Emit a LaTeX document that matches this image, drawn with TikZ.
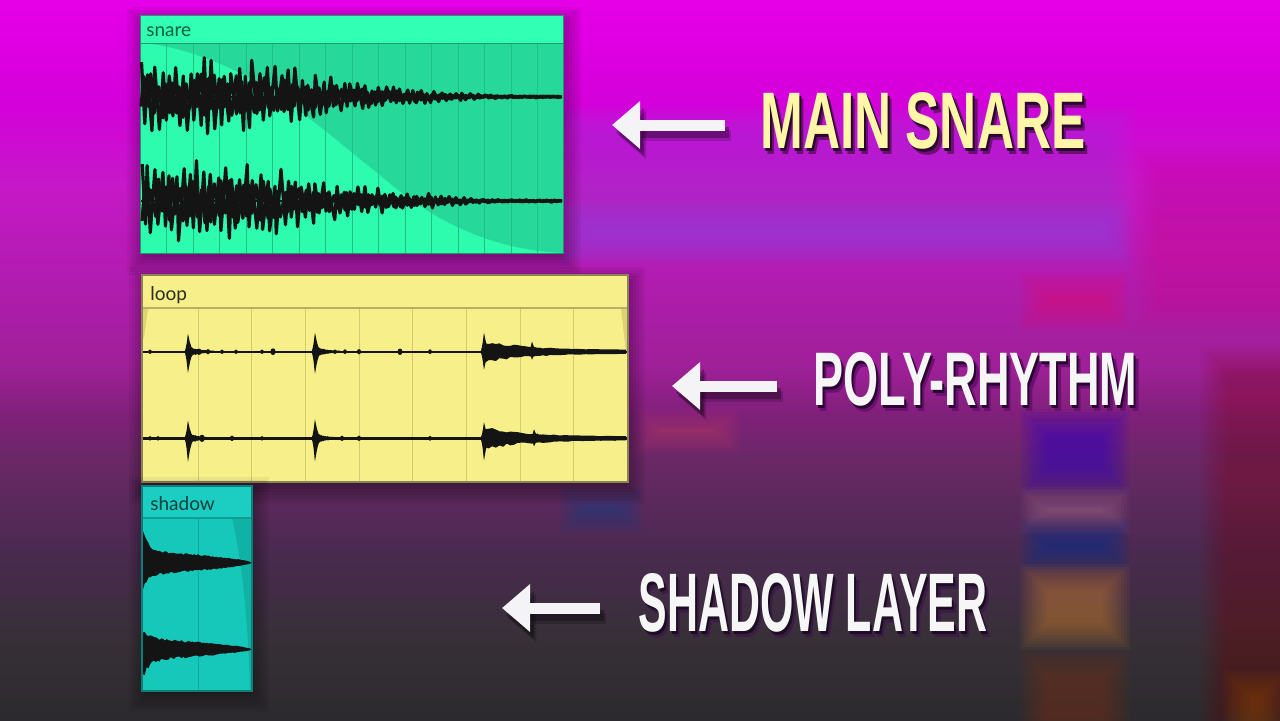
\documentclass[tikz,border=0pt]{standalone}
\usepackage{fontspec}
\setmainfont{Liberation Sans}
\newfontfamily\labfont{Lato}
\usetikzlibrary{arrows.meta}
\definecolor{bgA}{HTML}{E600E8}
\definecolor{bgB}{HTML}{D400DA}
\definecolor{bgC}{HTML}{C618C8}
\definecolor{bgD}{HTML}{9E2098}
\definecolor{bgE}{HTML}{80207A}
\definecolor{bgF}{HTML}{6A2866}
\definecolor{bgG}{HTML}{4A2A50}
\definecolor{bgH}{HTML}{363036}
\definecolor{bgI}{HTML}{2C2A2E}
\definecolor{panelviolet}{HTML}{9448E0}
\definecolor{snhead}{HTML}{31FFB3}
\definecolor{snlight}{HTML}{2DFCAF}
\definecolor{sndark}{HTML}{26D99A}
\definecolor{sngrid}{HTML}{1FBF87}
\definecolor{snborder}{HTML}{1A9A6C}
\definecolor{sntext}{HTML}{0E5E40}
\definecolor{lpbody}{HTML}{F7F08A}
\definecolor{lpgrid}{HTML}{D2CA6C}
\definecolor{lpsep}{HTML}{B8B068}
\definecolor{lpborder}{HTML}{8A8450}
\definecolor{lpfade}{HTML}{DCD474}
\definecolor{lptext}{HTML}{2E2C20}
\definecolor{shbody}{HTML}{16C8BA}
\definecolor{shhead}{HTML}{1BCEC1}
\definecolor{shsep}{HTML}{0E9E94}
\definecolor{shgrid}{HTML}{10A89E}
\definecolor{shfade}{HTML}{10B2A6}
\definecolor{shborder}{HTML}{0B7F78}
\definecolor{shtext}{HTML}{073F3B}
\definecolor{arrowwhite}{HTML}{F4F4F6}
\definecolor{titleyellow}{HTML}{FFF6A8}
\definecolor{titlewhite}{HTML}{F6F6F6}
\definecolor{shadowA}{HTML}{2A0630}
\definecolor{shadowB}{HTML}{6A1070}
\definecolor{shadowC}{HTML}{1C0E22}
\definecolor{shadowD}{HTML}{3A1C44}
\tikzset{
  wave/.style={fill=black!92},
  waveline/.style={draw=black!92, line width=1.6pt, line join=round},
  baseline/.style={draw=black!92, line width=1.2pt},
  bigarrow/.style={draw=arrowwhite, line width=5.5pt, -{Triangle[length=14pt,width=23pt]}},
  arrowshadow/.style={draw=black, opacity=0.3, line width=5.5pt, -{Triangle[length=14pt,width=23pt]}},
  cliplabel/.style={anchor=base west, inner sep=0pt, font=\labfont\fontsize{9.5}{11}\selectfont},
  bigtext/.style={anchor=base west, inner sep=0pt},
}
\newcommand\blurbox[6]{\foreach \bi in {0,...,9}{\fill[#5, opacity=#6] ({#1-15+3*\bi},{#2-15+3*\bi}) rectangle ({#3+15-3*\bi},{#4+15-3*\bi});}}
\newcommand\spike[4]{\fill[wave] ({#1-3.5},{#2}) .. controls ({#1-1},{#2-0.3*#3}) and ({#1-0.8},{#2-0.85*#3}) .. ({#1},{#2-#3}) .. controls ({#1+0.8},{#2-0.85*#3}) and ({#1+1.8},{#2-0.3*#3}) .. ({#1+6},{#2}) .. controls ({#1+1.8},{#2+0.3*#4}) and ({#1+0.8},{#2+0.85*#4}) .. ({#1},{#2+#4}) .. controls ({#1-0.8},{#2+0.85*#4}) and ({#1-1},{#2+0.3*#4}) .. cycle;}
\newcommand\wtail[6]{\fill[wave] plot[domain=#1:#2, samples=40] (\x,{#3-#6-#4*exp(-(\x-#1)/#5)*(0.55+0.45*rnd)}) -- plot[domain=#2:#1, samples=40] (\x,{#3+#6+#4*exp(-(\x-#1)/#5)*(0.55+0.45*rnd)}) -- cycle;}
\newcommand\blob[3]{\fill[wave] (#1,#2) ellipse ({0.8*#3} and {#3});}
\newcommand\snarewave[3]{\draw[waveline] plot[domain=141:561, samples=121] ({min(max(\x+1.3*rand,141),562)},{#1-#2*(31/(1+exp(min((\x-305)/30,8)))+10/(1+exp(min((\x-435)/22,8)))+1.2)*(0.42+0.58*rnd)*(1-2*mod(round((\x-141)/3.5)+#3,2))});}
\newcommand\titletext[6]{\rlap{\hspace{2.2pt}\raisebox{-3.2pt}{\color{#6}\resizebox{#2}{#3}{\bfseries #4}}}\rlap{\hspace{1pt}\raisebox{-1.5pt}{\color{#5}\resizebox{#2}{#3}{\bfseries #4}}}{\color{#1}\resizebox{#2}{#3}{\bfseries #4}}}
\begin{document}
\begin{tikzpicture}[x=0.5pt,y=-0.5pt]
\useasboundingbox (0,0) rectangle (1280,720);
\pgfmathsetseed{11}
% ---------- background ----------
\shade[top color=bgA, bottom color=bgB] (0,0) rectangle (1280,101);
\shade[top color=bgB, bottom color=bgC] (0,100) rectangle (1280,185);
\shade[top color=bgC, bottom color=bgD] (0,184) rectangle (1280,368);
\shade[top color=bgD, bottom color=bgE] (0,367) rectangle (1280,414);
\shade[top color=bgE, bottom color=bgF] (0,413) rectangle (1280,460);
\shade[top color=bgF, bottom color=bgG] (0,459) rectangle (1280,552);
\shade[top color=bgG, bottom color=bgH] (0,551) rectangle (1280,644);
\shade[top color=bgH, bottom color=bgI] (0,643) rectangle (1280,720);
% blurred app panel behind
\blurbox{570}{120}{1120}{250}{panelviolet}{0.035}
\blurbox{575}{215}{1115}{250}{panelviolet}{0.06}
\blurbox{1145}{160}{1300}{320}{magenta!85!red}{0.025}
\blurbox{1215}{360}{1300}{720}{red!55!black}{0.03}
\blurbox{1035}{287}{1115}{316}{magenta!70!red}{0.06}
\blurbox{1035}{424}{1115}{480}{blue!60!violet}{0.07}
\blurbox{1035}{502}{1115}{519}{gray!70!magenta}{0.06}
\blurbox{1035}{533}{1115}{557}{blue!70!cyan!60!black}{0.07}
\blurbox{1035}{579}{1115}{635}{brown!80!orange}{0.065}
\blurbox{1035}{665}{1115}{730}{red!40!brown!60!black}{0.06}
\blurbox{1238}{685}{1272}{730}{orange!60!black}{0.06}
\blurbox{650}{423}{725}{439}{magenta!50!orange}{0.035}
\blurbox{575}{502}{628}{519}{blue!50!cyan!60!black}{0.05}
% ---------- snare clip ----------
\blurbox{142}{22}{566}{260}{black}{0.05}
\fill[snlight] (140,15) rectangle (563,253);
\fill[sndark] (146,43) .. controls (250,58) and (312,122) .. (380,175) .. controls (440,228) and (500,250) .. (563,253) -- (563,43) -- cycle;
\foreach \k in {1,...,15} \draw[sngrid, line width=0.5pt] ({140+26.5*\k},43) -- ({140+26.5*\k},253);
\fill[snhead] (140,15) rectangle (563,43);
\draw[snborder, line width=0.5pt] (140,43) -- (563,43);
\draw[snborder, line width=0.5pt] (140,15) rectangle (563,253);
\draw[baseline, line width=0.8pt] (141,96.7) -- (562,96.7);
\draw[baseline, line width=0.8pt] (141,201) -- (562,201);
\snarewave{96.7}{1}{0}
\snarewave{96.7}{0.55}{1}
\snarewave{201}{1}{0}
\snarewave{201}{0.55}{1}
\node[cliplabel, text=sntext] (lsnare) at (146,36) {snare};
% ---------- loop clip ----------
\blurbox{144}{282}{630}{489}{black}{0.05}
\fill[lpbody] (142,275) rectangle (628,482);
\foreach \k in {1,...,8} \draw[lpgrid, line width=0.5pt] ({144.3+53.7*\k},308) -- ({144.3+53.7*\k},482);
\fill[lpfade] (143,309) -- (148,309) -- (144,338) -- (143,338) -- cycle;
\fill[lpfade] (627,309) -- (621,309) -- (626,353) -- (627,353) -- cycle;
\draw[lpsep, line width=0.7pt] (142,308) -- (628,308);
\draw[lpborder, line width=1pt] (142,275) rectangle (628,482);
\node[cliplabel, text=lptext] (lloop) at (150,300) {loop};
% channel 1
\draw[baseline] (143,351.7) -- (627,351.7);
\spike{188}{351.7}{18}{21}
\wtail{189}{214}{351.7}{5}{9}{0.8}
\spike{315}{351.7}{19}{22}
\wtail{316}{340}{351.7}{5}{9}{0.8}
\spike{484}{351.7}{19}{18}
\wtail{485}{626}{351.7}{10}{45}{1.8}
\spike{532}{351.7}{10}{8}
\wtail{532}{565}{351.7}{5}{14}{1}
\blob{150}{351.7}{2.2}
\blob{199}{351.7}{3.2}
\blob{208}{351.7}{2.6}
\blob{222}{351.7}{2.2}
\blob{236}{351.7}{2.2}
\blob{262}{351.7}{2.2}
\blob{273}{351.7}{3.4}
\blob{335}{351.7}{2.2}
\blob{345}{351.7}{2.4}
\blob{359}{351.7}{2.6}
\blob{400}{351.7}{3.2}
\blob{430}{351.7}{2.4}
% channel 2
\draw[baseline] (143,438.3) -- (627,438.3);
\spike{188}{438.3}{17.6}{23.4}
\wtail{189}{212}{438.3}{5}{9}{0.8}
\spike{315}{438.3}{19}{23}
\wtail{316}{338}{438.3}{5}{9}{0.8}
\spike{484}{438.3}{16}{22}
\wtail{485}{626}{438.3}{10}{45}{1.8}
\spike{534}{438.3}{9}{8}
\wtail{534}{565}{438.3}{5}{14}{1}
\blob{150}{438.3}{2.2}
\blob{158}{438.3}{2.2}
\blob{202}{438.3}{3.6}
\blob{232}{438.3}{2.7}
\blob{262}{438.3}{2.2}
\blob{342}{438.3}{2.6}
\blob{359}{438.3}{2.6}
\blob{430}{438.3}{2.4}
\blob{552}{438.3}{2.6}
\blob{615}{438.3}{2.4}
% ---------- shadow clip ----------
\blurbox{144}{492}{254}{697}{black}{0.05}
\fill[shbody] (142,486) rectangle (252,691);
\draw[shgrid, line width=0.5pt] (198.3,518) -- (198.3,691);
\fill[shfade] (232,518) .. controls (242,560) and (248,620) .. (250,691) -- (252,691) -- (252,518) -- cycle;
\fill[shhead] (142,486) rectangle (252,518);
\draw[shsep, line width=0.6pt] (142,518) -- (252,518);
\draw[shborder, line width=0.6pt] (142,486) rectangle (252,691);
\node[cliplabel, text=shtext] (lshadow) at (150,510) {shadow};
\fill[wave] plot[domain=143:251, samples=60] (\x,{562.7-(19*exp(-(\x-143)/6)+13)*((251.5-\x)/108.5)^0.6*(0.8+0.2*rnd)}) -- plot[domain=251:143, samples=60] (\x,{562.7+(14*exp(-(\x-143)/6)+13)*((251.5-\x)/108.5)^0.6*(0.8+0.2*rnd)}) -- cycle;
\fill[wave] plot[domain=143:251, samples=60] (\x,{649.3-(10*exp(-(\x-143)/6)+12)*((251.5-\x)/108.5)^0.6*(0.75+0.25*rnd)}) -- plot[domain=251:143, samples=60] (\x,{649.3+(18*exp(-(\x-143)/7)+12)*((251.5-\x)/108.5)^0.6*(0.75+0.25*rnd)}) -- cycle;
% ---------- titles ----------
\node[bigtext] (tmain) at (760,148) {\titletext{titleyellow}{162.5pt}{28pt}{MAIN SNARE}{shadowA}{shadowB}};
\node[bigtext] (tpoly) at (813,405) {\titletext{titlewhite}{162pt}{26.5pt}{POLY-RHYTHM}{shadowA}{shadowB}};
\node[bigtext] (tshad) at (638,631) {\titletext{titlewhite}{174.5pt}{29pt}{SHADOW LAYER}{shadowC}{shadowD}};
% ---------- arrows ----------
\coordinate (a1tail) at (725,125);
\coordinate (a1tip) at (612,125);
\coordinate (a2tail) at (777,386);
\coordinate (a2tip) at (672,386);
\coordinate (a3tail) at (600,608);
\coordinate (a3tip) at (502,608);
\foreach \t/\h in {a1tail/a1tip, a2tail/a2tip, a3tail/a3tip}{
  \draw[arrowshadow] ([shift={(4,7)}]\t) -- ([shift={(4,7)}]\h);
  \draw[arrowshadow, opacity=0.18] ([shift={(6,10)}]\t) -- ([shift={(6,10)}]\h);
  \draw[bigarrow] (\t) -- (\h);
}
\end{tikzpicture}
\end{document}
